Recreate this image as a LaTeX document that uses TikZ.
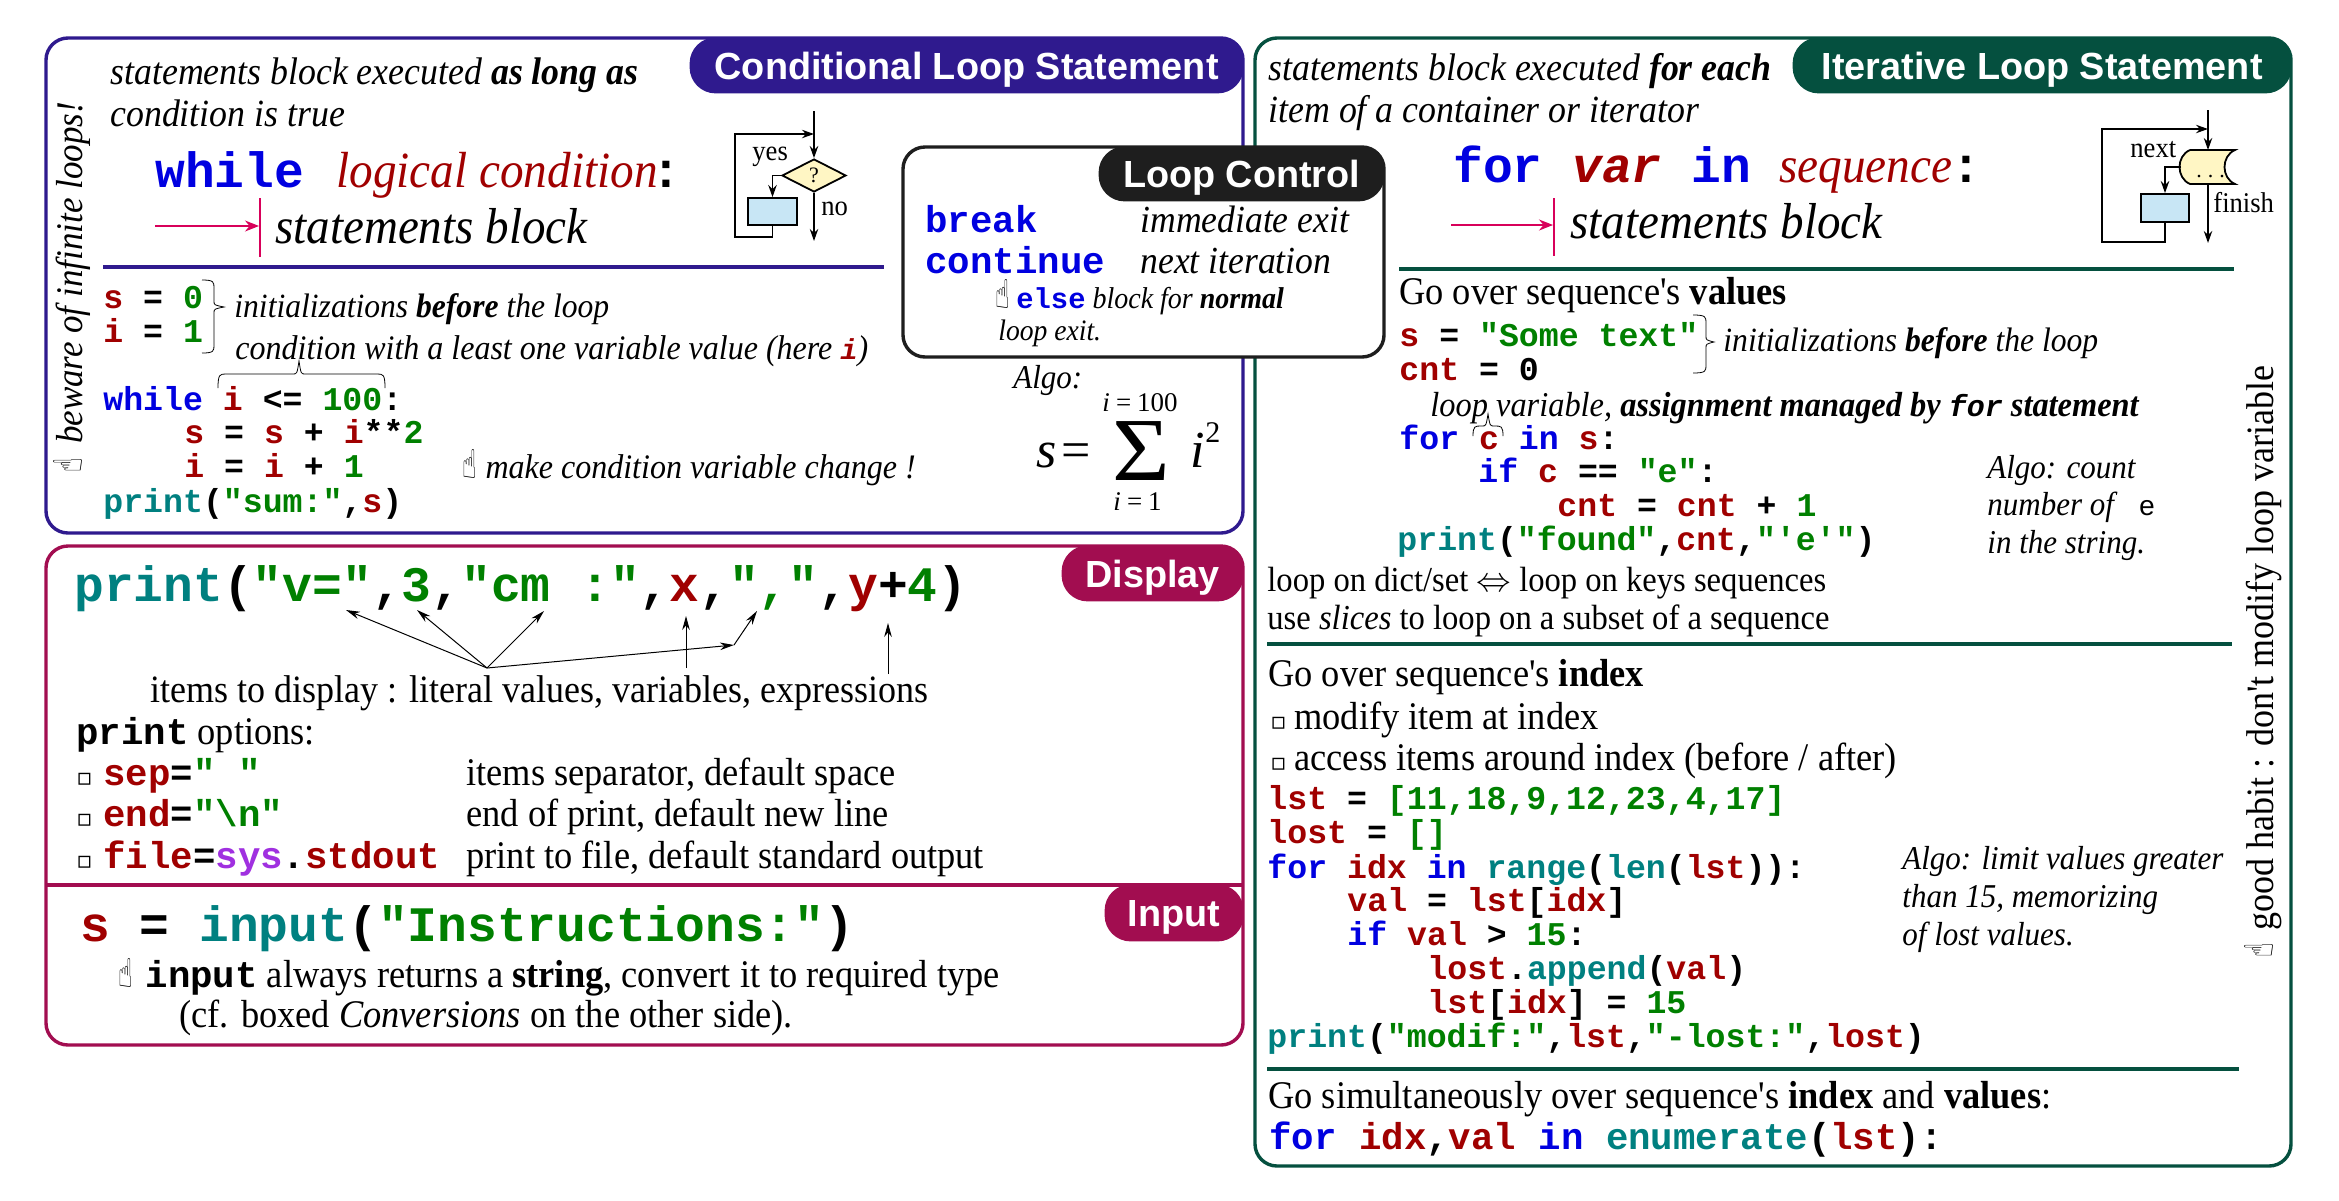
\documentclass[tikz,border=0pt]{standalone}
\usepackage{fontspec}
\usetikzlibrary{arrows.meta,shapes.geometric}
\newfontfamily\myrm[FakeStretch=0.93]{Liberation Serif}
\newfontfamily\mymath{Liberation Serif}
\newfontfamily\mymono{Liberation Mono}
\newfontfamily\myhead{Liberation Sans}
\newfontfamily\mysym{DejaVu Sans}
\newcommand{\fsz}[1]{\fontsize{#1}{#1}\selectfont}
\newcommand{\rfz}[1]{\fontsize{\fpeval{#1/0.93}}{#1}\selectfont}
\definecolor{cblue}{HTML}{0000E0}
\definecolor{cred}{HTML}{A00000}
\definecolor{cgreen}{HTML}{008000}
\definecolor{cteal}{HTML}{008080}
\definecolor{cpurple}{HTML}{A030E0}
\definecolor{pcond}{HTML}{2F1A8E}
\definecolor{piter}{HTML}{05503F}
\definecolor{pdisp}{HTML}{A20D50}
\definecolor{pctl}{HTML}{1E1E1E}
\definecolor{cpink}{HTML}{D8005A}
\definecolor{fyel}{HTML}{FFF6C4}
\definecolor{fblu}{HTML}{C8E6F5}
\newcommand{\ckw}[1]{\textcolor{cblue}{#1}}
\newcommand{\cvr}[1]{\textcolor{cred}{#1}}
\newcommand{\clit}[1]{\textcolor{cgreen}{#1}}
\newcommand{\cfn}[1]{\textcolor{cteal}{#1}}
\newcommand{\hnd}{\scalebox{0.6}[1]{\mysym\bfseries\upshape\fsz{20}\char"261D}}
\newcommand{\bul}{{\mysym\mdseries\upshape\fsz{12}\char"25AB}}
% braces
\newcommand{\rbr}[6]{\draw[brc] (#1,#3) .. controls (#2,#3) and (#2,#3+2) .. (#2,#3+8) -- (#2,#4-6) .. controls (#2,#4-2) .. (#6,#4) .. controls (#2,#4+2) .. (#2,#4+6) -- (#2,#5-8) .. controls (#2,#5-2) and (#2,#5) .. (#1,#5);}
\newcommand{\tbr}[6]{\draw[brc] (#1,#3) .. controls (#1,#4) and (#1+2,#4) .. (#1+8,#4) -- (#5-6,#4) .. controls (#5-2,#4) .. (#5,#6) .. controls (#5+2,#4) .. (#5+6,#4) -- (#2-8,#4) .. controls (#2-2,#4) and (#2,#4) .. (#2,#3);}
\tikzset{
 panel/.style={line width=1.7pt,rounded corners=11pt},
 tab/.style={rounded corners=13pt,inner sep=0pt,text=white,font=\myhead\bfseries\fsz{18.9},anchor=north east,text height=14pt,text depth=0pt},
 txt/.style={anchor=base west,inner sep=0pt,font=\myrm\rfz{#1}},
 itx/.style={anchor=base west,inner sep=0pt,font=\myrm\itshape\rfz{#1}},
 mtx/.style={anchor=base west,inner sep=0pt,font=\mymath\fsz{#1}},
 mit/.style={anchor=base west,inner sep=0pt,font=\mymath\itshape\fsz{#1}},
 code/.style={anchor=base west,inner sep=0pt,font=\mymono\bfseries\fsz{16.6}},
 codeb/.style={anchor=base west,inner sep=0pt,font=\mymono\bfseries\fsz{18.7}},
 codel/.style={anchor=base west,inner sep=0pt,font=\mymono\bfseries\fsz{24.8}},
 sepline/.style={line width=1.6pt},
 brc/.style={line width=0.4pt},
 flow/.style={line width=0.9pt,-{Stealth[length=6pt,width=4.2pt]}},
 thin arrow/.style={line width=0.5pt,-{Stealth[length=7pt,width=3.8pt]}},
 pink arrow/.style={cpink,line width=0.6pt,-{Stealth[length=7pt,width=5.5pt]}},
 pink bar/.style={cpink,line width=1.4pt},
 fbx/.style={draw,line width=0.9pt,fill=fblu,inner sep=0pt},
 dia/.style={diamond,aspect=2,draw,line width=0.9pt,fill=fyel,inner sep=0pt,font=\mymath\fsz{11}},
}
\begin{document}
\begin{tikzpicture}[x=0.5pt,y=-0.5pt]
\useasboundingbox (0,0) rectangle (2339,1200);
\fill[white] (0,0) rectangle (2339,1200);
% ---- panels
\draw[panel,pcond] (46,38) rectangle (1243,533);
\draw[panel,piter] (1255,38) rectangle (2291,1166);
\draw[panel,pdisp] (46,546) rectangle (1243,1045);
\node[tab,fill=pcond,minimum width=277pt,minimum height=28pt] (hcond) at (1244,37) {Conditional Loop Statement};
\node[tab,fill=piter,minimum width=249.5pt,minimum height=28pt] (hiter) at (2292,37) {Iterative Loop Statement};
\node[tab,fill=pdisp,minimum width=91pt,minimum height=28pt] (hdisp) at (1244,545) {Display};
\draw[sepline,pdisp] (46,885) -- (1243,885);
\node[tab,fill=pdisp,minimum width=69.5pt,minimum height=28.5pt] (hinp) at (1244,884) {Input};
% ---- conditional
\node[itx=17.9] (c1) at (110,84) {statements block executed {\bfseries as long as}};
\node[itx=17.9] (c2) at (110,126) {condition is true};
\node[codel] (c3) at (155,187) {\ckw{while}};
\node[itx=23.6] (c4) at (336,187) {\cvr{logical condition}};
\node[codel] (c5) at (651,187) {:};
\coordinate (c6a) at (155,226); \coordinate (c6b) at (259,226);
\draw[pink arrow] (c6a) -- (c6b);
\coordinate (c7a) at (260,198); \coordinate (c7b) at (260,257);
\draw[pink bar] (c7a) -- (c7b);
\node[itx=23.5] (c8) at (275,243) {statements block};
\coordinate (c9a) at (103,267); \coordinate (c9b) at (884,267);
\draw[sepline,pcond] (c9a) -- (c9b);
\node[code] (c10) at (103,308) {\cvr{s} = \clit{0}};
\node[code] (c11) at (103,342) {\cvr{i} = \clit{1}};
\rbr{202}{214}{280}{307}{353}{224}
\node[itx=15.8] (c12) at (234,317) {initializations {\bfseries before} the loop};
\node[itx=16] (c13) at (235,359) {condition with a least one variable value (here {\mymono\bfseries\fsz{14.4}\cvr{i}})};
\tbr{218}{385}{388}{374}{299}{361}
\node[code] (c14) at (103,410) {\ckw{while} \cvr{i} <= \clit{100}:};
\node[code] (c15) at (184,443) {\cvr{s} = \cvr{s} + \cvr{i}**\clit{2}};
\node[code] (c16) at (184,477) {\cvr{i} = \cvr{i} + \clit{1}};
\node[code] (c17) at (103,512) {\cfn{print}(\clit{"sum:"},\cvr{s})};
\node[itx=16] (c18) at (462,478) {\hnd\kern4.3pt make condition variable change !};
\node[itx=17.5,rotate=90] (c19) at (82,473) {\hnd\kern7pt beware of infinite loops!};
% flow while
\coordinate (wt) at (814,111); \coordinate (wb) at (814,241); \coordinate (wj) at (814,134); \coordinate (wl) at (735,237);
\node[dia,minimum width=32pt,minimum height=16.5pt] (wd) at (814,175.5) {?};
\node[fbx,minimum width=24.5pt,minimum height=13.5pt] (wbx) at (772.5,211.5) {};
\draw[flow] (wt) -- (wd.north);
\draw[flow] (wd.south) -- (wb);
\draw[flow] (wd.west) -| (wbx.north);
\draw[flow] (wbx.south) |- (wl) |- (wj);
\node[txt=13.3] (wy) at (752,160) {yes};
\node[txt=13.3] (wn) at (821,215) {no};
% ---- iterative
\node[itx=17.9] (i1) at (1268,80) {statements block executed {\bfseries for each}};
\node[itx=17.9] (i2) at (1268,122) {item of a container or iterator};
\node[codel] (i3) at (1453,182) {\ckw{for} \cvr{\itshape var} \ckw{in}};
\node[itx=23.6] (i4) at (1779,182) {\cvr{sequence}};
\node[codel] (i5) at (1951,182) {:};
\coordinate (i6a) at (1451,225); \coordinate (i6b) at (1553,225);
\draw[pink arrow] (i6a) -- (i6b);
\coordinate (i7a) at (1554,198); \coordinate (i7b) at (1554,256);
\draw[pink bar] (i7a) -- (i7b);
\node[itx=23.5] (i8) at (1570,238) {statements block};
\coordinate (i9a) at (1399,269); \coordinate (i9b) at (2234,269);
\draw[sepline,piter] (i9a) -- (i9b);
\node[txt=18.2] (i10) at (1399,304) {Go over sequence's {\bfseries values}};
\node[code] (i11) at (1399,346) {\cvr{s} = \clit{"Some text"}};
\node[code] (i12) at (1399,380) {\cvr{cnt} = 0};
\rbr{1693}{1706}{315}{342}{373}{1714}
\node[itx=15.8] (i13) at (1723,351) {initializations {\bfseries before} the loop};
\node[itx=16.2] (i14) at (1430,416) {loop variable, {\bfseries assignment managed by {\mymono\fsz{15}for} statement}};
\tbr{1473}{1503}{436}{426}{1488}{414}
\node[code] (i15) at (1399,449) {\ckw{for} \cvr{c} \ckw{in} \cvr{s}:};
\node[code] (i16) at (1478,482) {\ckw{if} \cvr{c} == \clit{"e"}:};
\node[code] (i17) at (1557,516) {\cvr{cnt} = \cvr{cnt} + \clit{1}};
\node[code] (i18) at (1397,550) {\cfn{print}(\clit{"found"},\cvr{cnt},\clit{"'e'"})};
\node[itx=15.5] (i19) at (1987,478) {Algo: count};
\node[itx=15.5] (i20) at (1987,515) {number of {\mymono\mdseries\upshape\fsz{14} e}};
\node[itx=15.5] (i21) at (1987,553) {in the string.};
\node[txt=16.3] (i22) at (1267,591) {loop on dict/set $\Leftrightarrow$ loop on keys sequences};
\node[txt=16.3] (i23) at (1267,629) {use {\itshape slices} to loop on a subset of a sequence};
\coordinate (i24a) at (1267,644); \coordinate (i24b) at (2232,644);
\draw[sepline,piter] (i24a) -- (i24b);
% flow for
\draw[line width=0.9pt,fill=fyel] (2190,150) -- (2235,150) .. controls (2221,156) and (2221,178) .. (2235,184) -- (2190,184) .. controls (2176,178) and (2176,156) .. (2190,150);
\coordinate (ft) at (2208,110); \coordinate (fs) at (2208,150); \coordinate (fb) at (2208,184);
\coordinate (fe) at (2208,243); \coordinate (fj) at (2208,129); \coordinate (fl) at (2102,242); \coordinate (fw) at (2181,167);
\node[mtx=11] (fd) at (2196,177) {.\kern3pt.\kern3pt.};
\node[fbx,minimum width=24pt,minimum height=14pt] (fbx) at (2165,208) {};
\draw[flow] (ft) -- (fs);
\draw[flow] (fb) -- (fe);
\draw[flow] (fw) -| (fbx.north);
\draw[flow] (fbx.south) |- (fl) |- (fj);
\node[txt=13.3] (fn) at (2130,157) {next};
\node[txt=13.3] (ff) at (2213,212) {finish};
% index
\node[txt=18.2] (x1) at (1268,686) {Go over sequence's {\bfseries index}};
\node[txt=18.2] (x2) at (1270,729) {\makebox[12pt][l]{\bul}modify item at index};
\node[txt=18.2] (x3) at (1270,770) {\makebox[12pt][l]{\bul}access items around index (before / after)};
\node[code] (x4) at (1267,809) {\cvr{lst} = \clit{[11,18,9,12,23,4,17]}};
\node[code] (x5) at (1267,843) {\cvr{lost} = \clit{[]}};
\node[code] (x6) at (1267,878) {\ckw{for} \cvr{idx} \ckw{in} \cfn{range}(\cfn{len}(\cvr{lst})):};
\node[code] (x7) at (1347,911) {\cvr{val} = \cvr{lst}[\cvr{idx}]};
\node[code] (x8) at (1347,945) {\ckw{if} \cvr{val} > \clit{15}:};
\node[code] (x9) at (1427,979) {\cvr{lost}.\cfn{append}(\cvr{val})};
\node[code] (x10) at (1427,1013) {\cvr{lst}[\cvr{idx}] = \clit{15}};
\node[code] (x11) at (1267,1047) {\cfn{print}(\clit{"modif:"},\cvr{lst},\clit{"-lost:"},\cvr{lost})};
\node[itx=15.5] (x12) at (1902,869) {Algo: limit values greater};
\node[itx=15.5] (x13) at (1902,907) {than 15, memorizing};
\node[itx=15.5] (x14) at (1902,945) {of lost values.};
\coordinate (x15a) at (1267,1069); \coordinate (x15b) at (2239,1069);
\draw[sepline,piter] (x15a) -- (x15b);
\node[txt=18.2] (x16) at (1268,1108) {Go simultaneously over sequence's {\bfseries index} and {\bfseries values}:};
\node[codeb] (x17) at (1269,1149) {\ckw{for} \cvr{idx},\cvr{val} \ckw{in} \cfn{enumerate}(\cvr{lst}):};
\node[txt=18,rotate=90] (x18) at (2273,958) {\hnd\kern6.2pt good habit : don't modify loop variable};
% ---- display
\node[codel] (d1) at (74,601) {\cfn{print}(\clit{"v="},\clit{3},\clit{"cm :"},\cvr{x},\clit{","},\cvr{y}+\clit{4})};
\coordinate (ds) at (487,668);
\coordinate (d2a) at (346,610); \coordinate (d2b) at (417,610); \coordinate (d2c) at (544,611);
\coordinate (d2d) at (734,645); \coordinate (d2e) at (757,611);
\coordinate (d2f) at (686,668); \coordinate (d2g) at (686,616);
\coordinate (d2h) at (888,674); \coordinate (d2i) at (888,623);
\draw[thin arrow] (ds) -- (d2a);
\draw[thin arrow] (ds) -- (d2b);
\draw[thin arrow] (ds) -- (d2c);
\draw[thin arrow] (ds) -- (d2d);
\draw[thin arrow] (d2d) -- (d2e);
\draw[thin arrow] (d2f) -- (d2g);
\draw[thin arrow] (d2h) -- (d2i);
\node[txt=18] (d3) at (150,702) {items to display : literal values, variables, expressions};
\node[txt=18.2] (d4) at (76,744) {{\mymono\bfseries\fsz{18.7}print} options:};
\node[txt=18.2] (d5a) at (76,785) {\bul};
\node[codeb] (d5) at (103,785) {\cvr{sep}=\clit{"\ "}};
\node[txt=18.2] (d5b) at (466,785) {items separator, default space};
\node[txt=18.2] (d6a) at (76,826) {\bul};
\node[codeb] (d6) at (103,826) {\cvr{end}=\clit{"\textbackslash n"}};
\node[txt=18.2] (d6b) at (466,826) {end of print, default new line};
\node[txt=18.2] (d7a) at (76,868) {\bul};
\node[codeb] (d7) at (103,868) {\cvr{file}=\textcolor{cpurple}{sys}.\cvr{stdout}};
\node[txt=18.2] (d7b) at (466,868) {print to file, default standard output};
\node[codel] (d8) at (80,941) {\cvr{s} = \cfn{input}(\clit{"Instructions:"})};
\node[txt=18.2] (d9) at (118,987) {\hnd\kern6.3pt{\mymono\bfseries\fsz{18.7}input} always returns a {\bfseries string}, convert it to required type};
\node[txt=18.2] (d10) at (179,1027) {(cf. boxed {\itshape Conversions} on the other side).};
% ---- loop control
\draw[panel,pctl,fill=white] (903,147) rectangle (1384,357);
\node[tab,fill=pctl,minimum width=143pt,minimum height=27.5pt] (hctl) at (1385,146) {Loop Control};
\node[codeb] (l1) at (925,232) {\ckw{break}};
\node[codeb] (l2) at (925,273) {\ckw{continue}};
\node[itx=17.8] (l3) at (1140,232) {immediate exit};
\node[itx=17.8] (l4) at (1140,273) {next iteration};
\node[itx=14] (l5) at (995,308) {\hnd\kern3.2pt{\mymono\bfseries\upshape\fsz{14.4}\ckw{else}} block for {\bfseries normal}};
\node[itx=13.8] (l6) at (998,340) {loop exit.};
\node[itx=15.5] (s1) at (1013,388) {Algo:};
\node[mit=26] (s2) at (1036,467) {s};
\node[mtx=26] (s3) at (1061,467) {=};
\node[mtx=45] (s4) at (1112,480) {\scalebox{1.1}[1]{Σ}};
\node[mit=13.5] (s5) at (1102,411) {i\,=\,{\upshape 100}};
\node[mit=13.5] (s6) at (1113,510) {i\,=\,{\upshape 1}};
\node[mit=26] (s7) at (1190,467) {i};
\node[mtx=15] (s8) at (1205,442) {2};
\end{tikzpicture}
\end{document}
